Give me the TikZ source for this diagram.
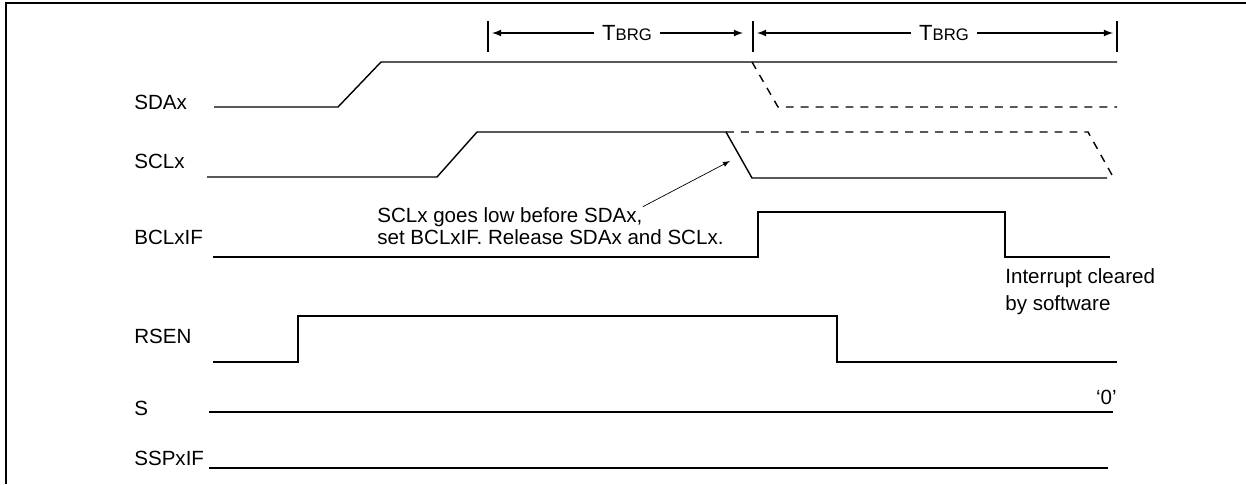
\documentclass[tikz,border=0pt]{standalone}
\usepackage{fontspec}
\setmainfont{Liberation Sans}
\usetikzlibrary{calc}

\begin{document}
\begin{tikzpicture}[x=0.02cm,y=-0.02cm,>=latex,
  every node/.style={font=\fontsize{11.7}{14}\selectfont,inner sep=0pt},
  lbl/.style={anchor=base west},
  wave/.style={line width=0.8pt},
  ghost/.style={line width=0.8pt,dash pattern=on 4.5pt off 4pt},
  tbrg/.style={inner xsep=4.5pt}]
  \useasboundingbox (0,0) rectangle (1246,484);
  \draw[line width=1.1pt] (1246,3) -- (6,3) -- (6,484);

  \node[lbl] (SDA) at (134,109) {SDAx};
  \node[lbl] (SCL) at (134,168) {SCLx};
  \node[lbl] (BCL) at (134,244) {BCLxIF};
  \node[lbl] (RSEN) at (134,343) {RSEN};
  \node[lbl] (S) at (134,415) {S};
  \node[lbl] (SSP) at (134,465) {SSPxIF};

  \draw[wave] (214,107) -- (338,107) -- (381,62) -- (1117,62);
  \draw[ghost] (752,62) -- (778,107) -- (1117,107);
  \draw[wave] (207,177) -- (437,177) -- (477,132) -- (726,132) -- (752,178) -- (1107,178);
  \draw[ghost] (726,132) -- (1088,132) -- (1112,175);
  \draw[wave] (213,257) -- (758,257) -- (758,212) -- (1005,212) -- (1005,257) -- (1110,257);
  \draw[wave] (213,362) -- (298,362) -- (298,316) -- (837,316) -- (837,362) -- (1117,362);
  \draw[wave] (209,412) -- (1113,412);
  \draw[wave] (209,468) -- (1108,468);

  \draw[wave] (488,21) -- (488,52) (753,21) -- (753,52) (1117,21) -- (1117,52);
  \coordinate (t0) at (492,33);
  \coordinate (t1) at (743,33);
  \coordinate (t2) at (757,33);
  \coordinate (t3) at (1113,33);
  \node[tbrg] (T1) at (627,33) {\fontsize{12.5}{14}\selectfont T{\fontsize{9.5}{10}\selectfont BRG}};
  \node[tbrg] (T2) at (944,33) {\fontsize{12.5}{14}\selectfont T{\fontsize{9.5}{10}\selectfont BRG}};
  \draw[wave,<-] (t0) -- (T1);
  \draw[wave,->] (T1) -- (t1);
  \draw[wave,<-] (t2) -- (T2);
  \draw[wave,->] (T2) -- (t3);

  \node[lbl] (note1) at (377,222) {SCLx goes low before SDAx,};
  \node[lbl] (note2) at (377,244) {set BCLxIF. Release SDAx and SCLx.};
  \coordinate (fall) at (730,161);
  \draw[->] (note1.north east) -- (fall);

  \node[lbl] (irq1) at (1005,283) {Interrupt cleared};
  \node[lbl] (irq2) at (1005,310) {by software};
  \node[anchor=base east] (zero) at (1117,404) {`0'};
\end{tikzpicture}
\end{document}
